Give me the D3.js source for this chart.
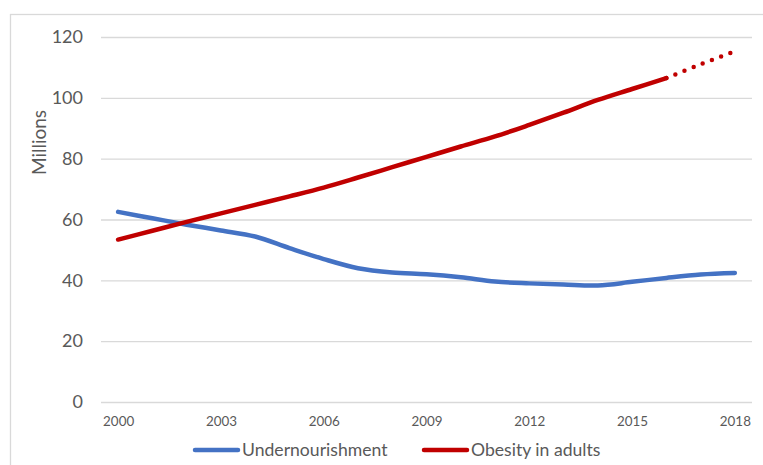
<!DOCTYPE html>
<html>
<head>
<meta charset="utf-8">
<script src="https://cdn.jsdelivr.net/npm/d3@7"></script>
<style>
  html, body { margin: 0; padding: 0; background: #fff; }
  svg { display: block; }
</style>
</head>
<body>
<svg id="chart" width="763" height="465"></svg>
<script>
// Years on the category axis
const years = d3.range(2000, 2019);
// Only every third year carries a label
const tickYears = [2000, 2003, 2006, 2009, 2012, 2015, 2018];
const yTicks = [0, 20, 40, 60, 80, 100, 120];

// Millions of people
const undernourishment = [62.5, 60.4, 58.3, 56.4, 54.4, 50.6, 47.0, 44.0, 42.6, 42.0,
                          41.0, 39.6, 39.0, 38.6, 38.3, 39.5, 40.8, 41.9, 42.4];
const obesity = [53.4, 56.3, 59.2, 62.0, 64.8, 67.6, 70.5, 73.8, 77.2, 80.6,
                 84.0, 87.3, 91.1, 95.1, 99.3, 102.9, 106.5, 111.0, 115.3];
// Index from which the obesity series is a projection (drawn dotted)
const projectionStart = 16;

const seriesNames = ["Undernourishment", "Obesity in adults"];
const seriesColors = ["#4472C4", "#C00000"];

const svg = d3.select("#chart");
const textColor = "#595959";
const gridColor = "#d9d9d9";
const font = "Lato, 'Open Sans', sans-serif";

// Outer chart frame
svg.append("rect")
  .attr("x", 10.5).attr("y", 14.5)
  .attr("width", 800).attr("height", 500)
  .attr("fill", "none")
  .attr("stroke", gridColor)
  .attr("stroke-width", 1.3);

const plot = { left: 101, right: 752, top: 37, bottom: 402 };

const x = d3.scalePoint()
  .domain(years)
  .range([plot.left, plot.right])
  .padding(0.5);

const y = d3.scaleLinear()
  .domain([0, 120])
  .range([plot.bottom, plot.top]);

// Horizontal gridlines + y labels
const yAxis = d3.axisLeft(y)
  .tickValues(yTicks)
  .tickSize(-(plot.right - plot.left))
  .tickPadding(18);

const gy = svg.append("g")
  .attr("transform", `translate(${plot.left},0)`)
  .call(yAxis);
gy.select(".domain").remove();
gy.selectAll(".tick line")
  .attr("stroke", gridColor)
  .attr("stroke-width", 1.3);
gy.selectAll(".tick text")
  .attr("fill", textColor)
  .attr("font-family", font)
  .attr("font-size", 18);

// Category labels
const xAxis = d3.axisBottom(x)
  .tickValues(tickYears)
  .tickSize(0)
  .tickPadding(14);
const gx = svg.append("g")
  .attr("transform", `translate(0,${plot.bottom})`)
  .call(xAxis);
gx.select(".domain").remove();
gx.selectAll(".tick text")
  .attr("fill", textColor)
  .attr("font-family", font)
  .attr("font-size", 13.4);

// Y axis title
svg.append("text")
  .attr("transform", "translate(46,142.5) rotate(-90)")
  .attr("text-anchor", "middle")
  .attr("fill", textColor)
  .attr("font-family", font)
  .attr("font-size", 19)
  .text("Millions");

const line = d3.line()
  .x(d => x(d.year))
  .y(d => y(d.value))
  .curve(d3.curveCatmullRom.alpha(0.5));

const toPoints = vals => vals.map((v, i) => ({ year: years[i], value: v }));

const underPts = toPoints(undernourishment);
const obesePts = toPoints(obesity);

svg.append("path")
  .datum(underPts)
  .attr("d", line)
  .attr("fill", "none")
  .attr("stroke", seriesColors[0])
  .attr("stroke-width", 4.5)
  .attr("stroke-linecap", "round")
  .attr("stroke-linejoin", "round");

svg.append("path")
  .datum(obesePts.slice(0, projectionStart + 1))
  .attr("d", line)
  .attr("fill", "none")
  .attr("stroke", seriesColors[1])
  .attr("stroke-width", 4.5)
  .attr("stroke-linecap", "round")
  .attr("stroke-linejoin", "round");

// Projected part drawn as round dots
svg.append("path")
  .datum(obesePts.slice(projectionStart))
  .attr("d", line)
  .attr("fill", "none")
  .attr("stroke", seriesColors[1])
  .attr("stroke-width", 4.5)
  .attr("stroke-linecap", "round")
  .attr("stroke-dasharray", "0 9.8")
  .attr("stroke-dashoffset", -9.8);

// Legend
const legendItems = [
  { name: seriesNames[0], color: seriesColors[0], x0: 195 },
  { name: seriesNames[1], color: seriesColors[1], x0: 424 }
];
const lg = svg.append("g");
legendItems.forEach(item => {
  lg.append("line")
    .attr("x1", item.x0).attr("x2", item.x0 + 43)
    .attr("y1", 450).attr("y2", 450)
    .attr("stroke", item.color)
    .attr("stroke-width", 4.5)
    .attr("stroke-linecap", "round");
  lg.append("text")
    .attr("x", item.x0 + 47)
    .attr("y", 456)
    .attr("fill", textColor)
    .attr("font-family", font)
    .attr("font-size", 17.6)
    .text(item.name);
});
</script>
</body>
</html>
